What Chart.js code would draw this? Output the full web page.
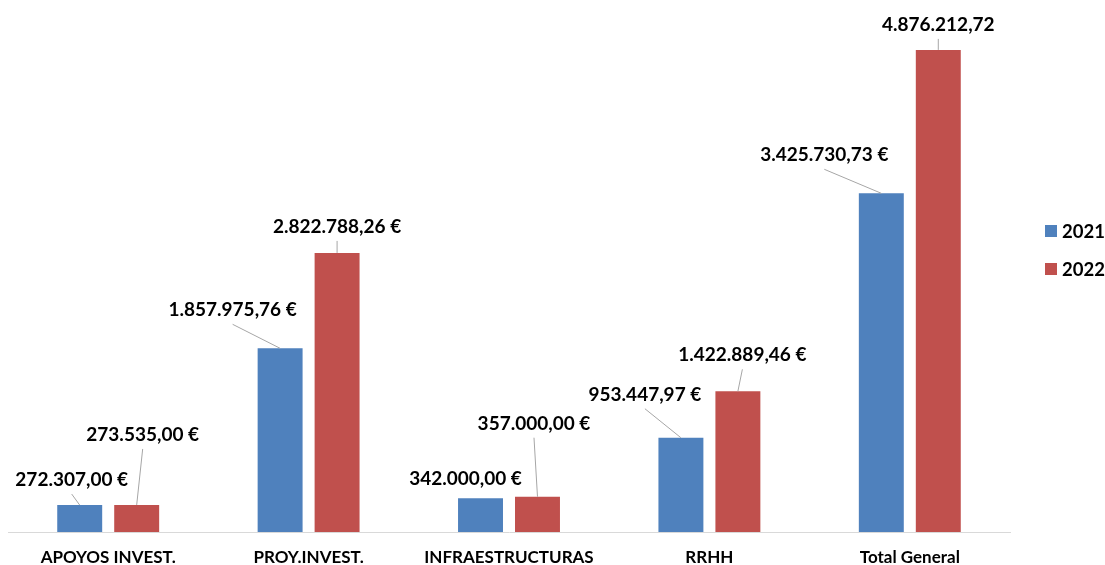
<!DOCTYPE html>
<html>
<head>
<meta charset="utf-8">
<script src="https://cdn.jsdelivr.net/npm/chart.js@4.4.1/dist/chart.umd.min.js"></script>
<style>
  html, body { margin: 0; padding: 0; background: #ffffff; }
  #wrap { width: 1105px; height: 565px; }
  canvas { display: block; }
</style>
</head>
<body>
<div id="wrap"><canvas id="c" width="1105" height="565"></canvas></div>
<script>
// ---- data ----
const categories = ['APOYOS INVEST.', 'PROY.INVEST.', 'INFRAESTRUCTURAS', 'RRHH', 'Total General'];
const seriesNames = ['2021', '2022'];
const values2021 = [272307.00, 1857975.76, 342000.00, 953447.97, 3425730.73];
const values2022 = [273535.00, 2822788.26, 357000.00, 1422889.46, 4876212.72];
const euroSuffix2021 = [true, true, true, true, true];
const euroSuffix2022 = [true, true, true, true, false];

// ---- styling / label placement (not data) ----
const COLORS = ['#4F81BD', '#C0504D'];
const FONT = 'Lato, "Liberation Sans", sans-serif';
const labelOffsets = [
  // [dx, dy, leader] relative to bar centre / bar top
  [[-8, -25, true], [-47.5, -38, true], [-15, -19, false], [-36, -43, true], [-57, -38, true]],
  [[6, -70, true], [0, -26, true], [-3.5, -73, true], [4.5, -36, true], [0, -25, true]]
];
const suffixes = [euroSuffix2021, euroSuffix2022];

function fmt(v, euro) {
  const fixed = v.toFixed(2);
  let [ip, dp] = fixed.split('.');
  ip = ip.replace(/\B(?=(\d{3})+(?!\d))/g, '.');
  return ip + ',' + dp + (euro ? ' €' : '');
}

const labelPlugin = {
  id: 'barLabels',
  afterDatasetsDraw(chart) {
    const ctx = chart.ctx;
    ctx.save();
    chart.data.datasets.forEach((ds, di) => {
      const meta = chart.getDatasetMeta(di);
      meta.data.forEach((bar, i) => {
        const [dx, dy, leader] = labelOffsets[di][i];
        const lx = bar.x + dx, ly = bar.y + dy;
        if (leader) {
          ctx.strokeStyle = '#A6A6A6';
          ctx.lineWidth = 1;
          ctx.beginPath();
          ctx.moveTo(lx, ly + 14);
          ctx.lineTo(bar.x, bar.y);
          ctx.stroke();
        }
        ctx.fillStyle = '#000000';
        ctx.font = 'bold 19px ' + FONT;
        ctx.textAlign = 'center';
        ctx.textBaseline = 'middle';
        ctx.fillText(fmt(ds.data[i], suffixes[di][i]), lx, ly);
      });
    });
    ctx.restore();
  }
};

const legendPlugin = {
  id: 'sideLegend',
  afterDraw(chart) {
    const ctx = chart.ctx;
    ctx.save();
    const ys = [231, 269];
    chart.data.datasets.forEach((ds, di) => {
      ctx.fillStyle = ds.backgroundColor;
      ctx.fillRect(1045, ys[di] - 6, 12, 12);
      ctx.fillStyle = '#000000';
      ctx.font = 'bold 18.5px ' + FONT;
      ctx.textAlign = 'left';
      ctx.textBaseline = 'middle';
      ctx.fillText(ds.label, 1062, ys[di] + 1);
    });
    ctx.restore();
  }
};

new Chart(document.getElementById('c'), {
  type: 'bar',
  data: {
    labels: categories,
    datasets: [
      { label: seriesNames[0], data: values2021, backgroundColor: COLORS[0] },
      { label: seriesNames[1], data: values2022, backgroundColor: COLORS[1] }
    ]
  },
  options: {
    responsive: false,
    animation: false,
    layout: { padding: { left: 8, right: 95, top: 8, bottom: 1 } },
    datasets: { bar: { categoryPercentage: 0.5686, barPercentage: 0.789 } },
    plugins: { legend: { display: false }, tooltip: { enabled: false } },
    scales: {
      x: {
        grid: { display: false, drawTicks: false },
        border: { display: true, color: '#D9D9D9', width: 1 },
        ticks: {
          color: '#000000',
          padding: 20,
          font: { family: FONT, size: 17, weight: 'bold', lineHeight: 0.7 }
        },
        afterFit(scale) { scale.height = 32; }
      },
      y: { display: false, min: 0, max: 5300000 }
    }
  },
  plugins: [labelPlugin, legendPlugin]
});
</script>
</body>
</html>
